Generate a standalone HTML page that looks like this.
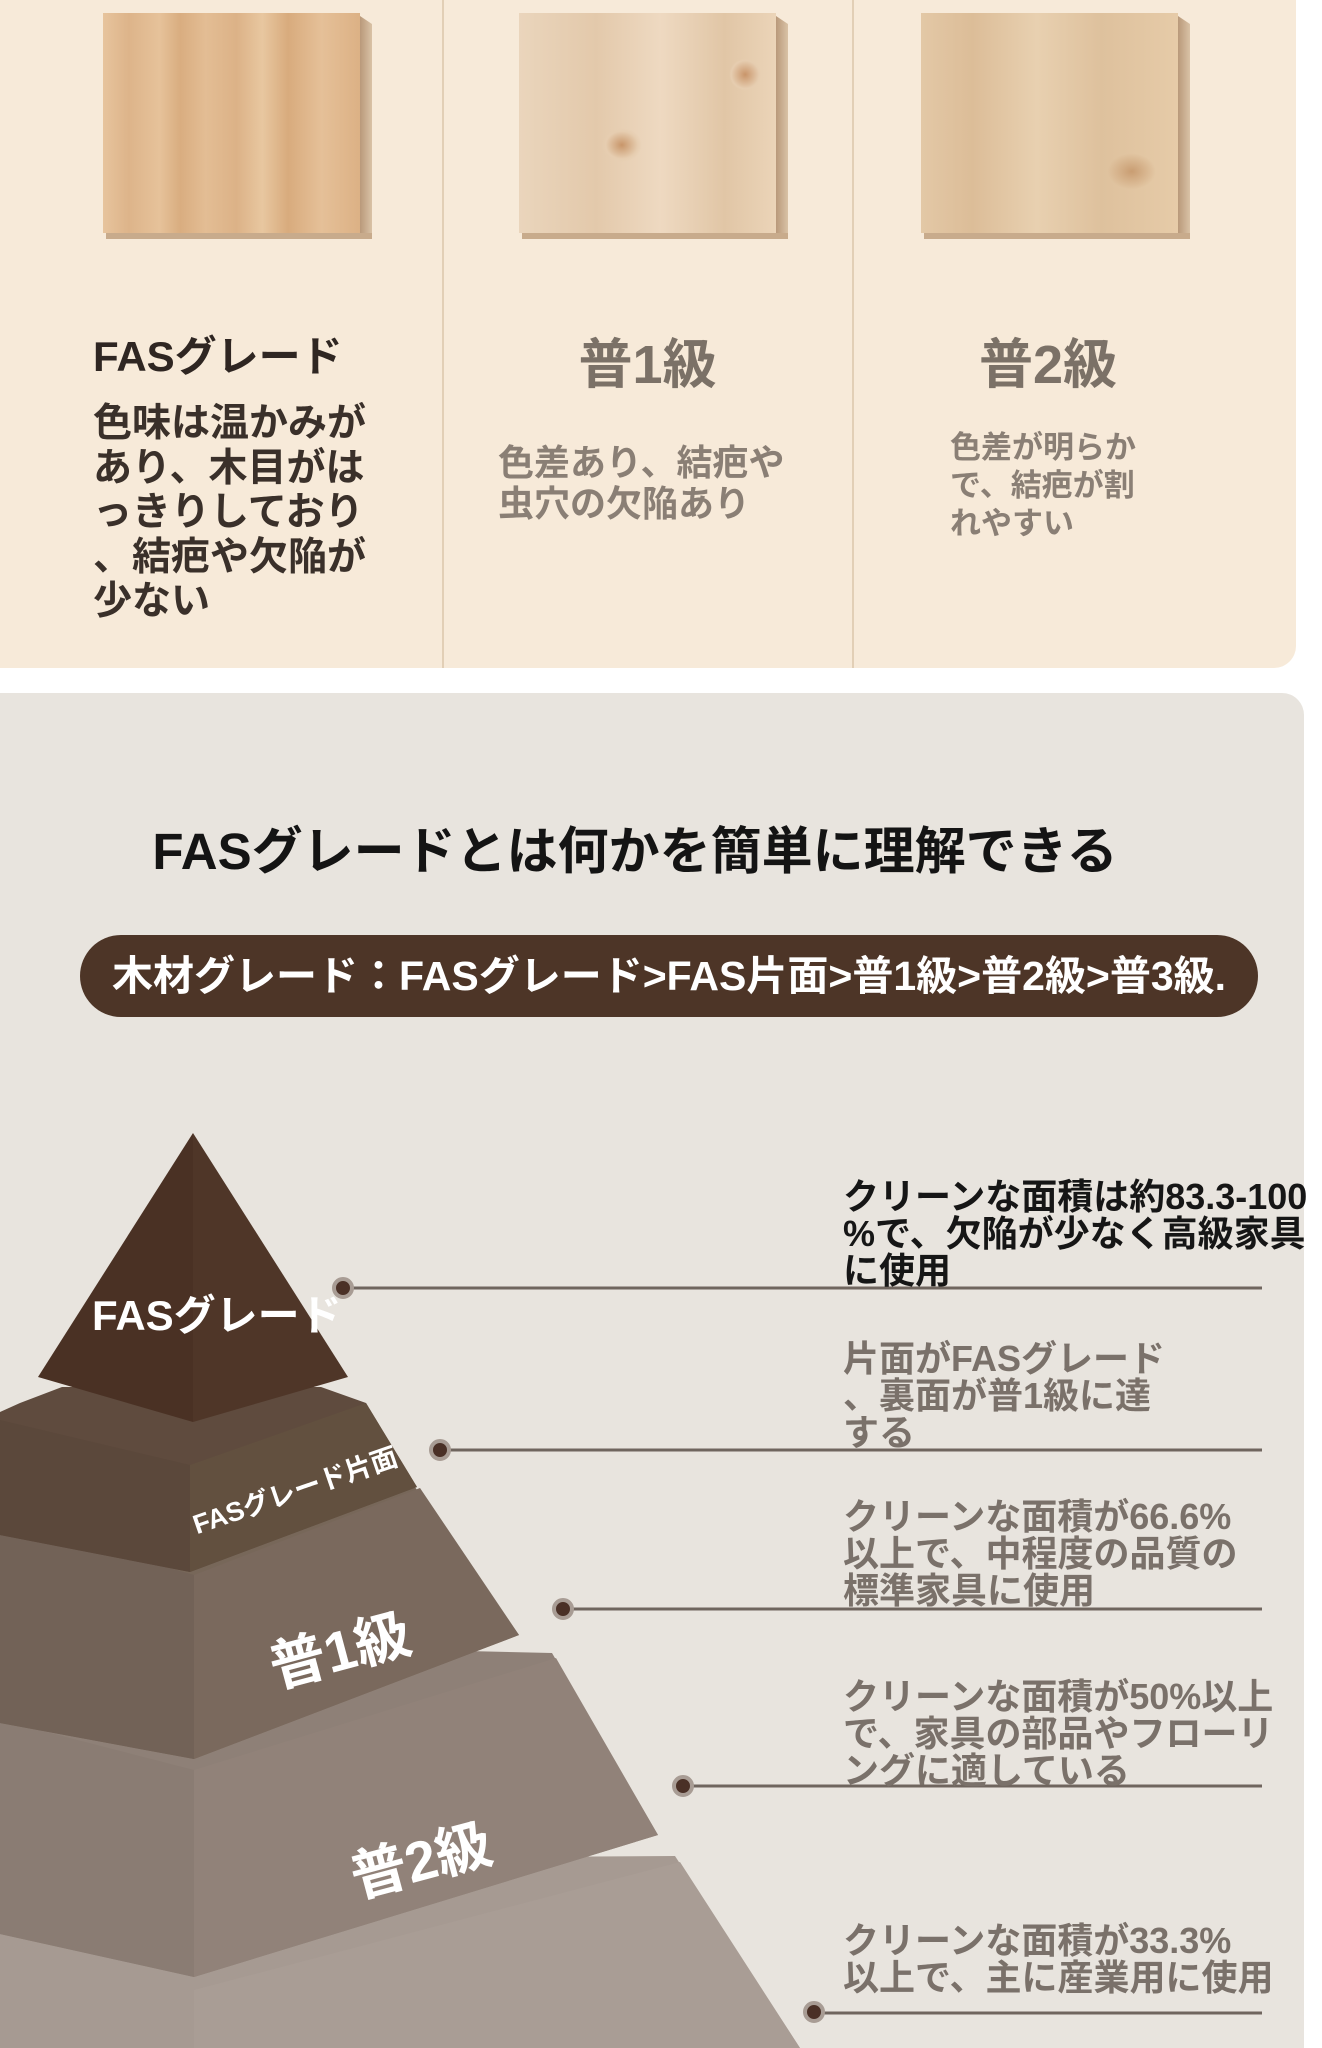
<!DOCTYPE html>
<html><head><meta charset="utf-8">
<style>
*{margin:0;padding:0;box-sizing:border-box}
body{width:1322px;height:2048px;background:#fff;position:relative;overflow:hidden;font-family:"Liberation Sans","Noto Sans CJK JP",sans-serif;font-weight:bold}
.a{position:absolute;white-space:nowrap}
.card1{position:absolute;left:0;top:0;width:1296px;height:668px;background:#f7ead9;border-radius:0 0 22px 0}
.card2{position:absolute;left:0;top:693px;width:1304px;height:1355px;background:#e8e4de;border-radius:0 22px 0 0}
.div{position:absolute;top:0;width:2px;height:668px;background:#e2cfb6}
.wood{position:absolute;width:257px;height:220px}
.wood .f{position:absolute;left:0;top:0;width:257px;height:220px}
.wood .s{position:absolute;left:257px;top:3px;width:12px;height:222px;background:linear-gradient(90deg,#b9997a,#d9c2a6);clip-path:polygon(0 0,100% 8px,100% 100%,0 100%)}
.wood .b{position:absolute;left:3px;top:220px;width:266px;height:6px;background:#c8ab8c}
.t{line-height:37px;font-size:36px}
</style></head><body>
<div class="card1"></div>
<div class="div" style="left:442px"></div>
<div class="div" style="left:852px"></div>

<div class="wood" style="left:103px;top:13px"><div class="f" style="background:linear-gradient(90deg,#e7c49d 0%,#ddb48a 10%,#e6c29a 22%,#d9ad80 30%,#e3bd94 40%,#dcb287 52%,#e8c7a0 62%,#d8ab7d 72%,#e5c098 85%,#dcb185 100%)"></div><div class="s"></div><div class="b"></div></div>
<div class="wood" style="left:519px;top:13px"><div class="f" style="background:radial-gradient(circle at 88% 28%,#c9956a 0,#e6cdb0 14px,transparent 16px),radial-gradient(ellipse at 40% 60%,#c8966a 0,#e6cdb0 16px,transparent 20px),linear-gradient(90deg,#ead5bc,#e3c9ab 30%,#eed9c1 55%,#e1c6a6 80%,#ebd4b8)"></div><div class="s"></div><div class="b"></div></div>
<div class="wood" style="left:921px;top:13px"><div class="f" style="background:radial-gradient(ellipse at 82% 72%,#c99d72 0,transparent 24px),linear-gradient(90deg,#e3c8a6,#dcbd98 20%,#e8d0b0 45%,#dec19d 70%,#e6cba8)"></div><div class="s"></div><div class="b"></div></div>

<div class="a" style="left:93px;top:333px;font-size:42px;line-height:48px;color:#2f2622">FASグレード</div>
<div class="a" style="left:93px;top:402px;font-size:39px;line-height:44.6px;color:#3a302a;white-space:normal;width:300px">色味は温かみが<br>あり、木目がは<br>っきりしており<br>、結疤や欠陥が<br>少ない</div>
<div class="a" style="left:443px;width:409px;text-align:center;top:333px;font-size:54px;line-height:64px;color:#7b7167">普1級</div>
<div class="a" style="left:498px;top:442px;font-size:36px;line-height:41px;color:#8a7f75">色差あり、結疤や<br>虫穴の欠陥あり</div>
<div class="a" style="left:853px;width:390px;text-align:center;top:333px;font-size:54px;line-height:64px;color:#7b7167">普2級</div>
<div class="a" style="left:950px;top:429px;font-size:31px;line-height:38px;color:#8a7f75">色差が明らか<br>で、結疤が割<br>れやすい</div>

<div class="card2"></div>
<div class="a" style="left:0;width:1270px;text-align:center;top:821px;font-size:51px;line-height:62px;color:#141414">FASグレードとは何かを簡単に理解できる</div>
<div class="a" style="left:80px;top:935px;width:1178px;height:82px;border-radius:41px;background:#4d3527"></div>
<div class="a" style="left:80px;width:1178px;text-align:center;top:951px;font-size:41px;line-height:50px;color:#fff">木材グレード：FASグレード&gt;FAS片面&gt;普1級&gt;普2級&gt;普3級.</div>

<svg class="a" style="left:0;top:0" width="1322" height="2048">
<polygon points="0,1860 675,1856 800,2048 0,2048" fill="#a69a92"/>
<polygon points="194,1990 680,1862 800,2048 194,2048" fill="#a99d95"/>
<polygon points="0,1640 552,1653 658,1835 194,1977 0,1934" fill="#8e8077"/>
<polygon points="194,1770 556,1658 658,1835 194,1977" fill="#918279"/>
<polygon points="0,1720 194,1770 194,1977 0,1934" fill="#8a7c73"/>
<polygon points="0,1490 410,1480 519,1635 194,1759 0,1723" fill="#776759"/>
<polygon points="194,1575 420,1488 519,1635 194,1759" fill="#7a695d"/>
<polygon points="0,1520 194,1575 194,1759 0,1723" fill="#726257"/>
<polygon points="20,1403 62,1387 321,1387 366,1403 417,1487 190,1572 0,1535 0,1412" fill="#5f4b3e"/>
<polygon points="190,1465 366,1403 417,1487 190,1572" fill="#62503f"/>
<polygon points="0,1420 190,1465 190,1572 0,1535" fill="#5b483b"/>
<polygon points="193,1133 38,1377 193,1422" fill="#4a3124"/>
<polygon points="193,1133 348,1377 193,1422" fill="#4f3628"/>
<g stroke="#6f655e" stroke-width="3">
<line x1="341" y1="1288" x2="1262" y2="1288"/>
<line x1="440" y1="1450" x2="1262" y2="1450"/>
<line x1="563" y1="1609" x2="1262" y2="1609"/>
<line x1="683" y1="1786" x2="1262" y2="1786"/>
<line x1="814" y1="2013" x2="1262" y2="2013"/>
</g>
<g fill="#4a3026" stroke="#a89c94" stroke-width="4">
<circle cx="343" cy="1288" r="9"/><circle cx="440" cy="1450" r="9"/><circle cx="563" cy="1609" r="9"/><circle cx="683" cy="1786" r="9"/><circle cx="814" cy="2012" r="9"/>
</g>
<g fill="#fff" font-family="Liberation Sans, Noto Sans CJK JP, sans-serif" font-weight="bold">
<text x="92" y="1330" font-size="42">FASグレード</text>
<text x="295" y="1500" font-size="27" text-anchor="middle" transform="rotate(-19 295 1490)">FASグレード片面</text>
<text x="340" y="1670" font-size="56" text-anchor="middle" transform="rotate(-15 340 1650)">普1級</text>
<text x="421" y="1880" font-size="56" text-anchor="middle" transform="rotate(-15 421 1860)">普2級</text>
</g>
</svg>

<div class="a t" style="left:843px;top:1178px;color:#161616">クリーンな面積は約83.3-100<br>%で、欠陥が少なく高級家具<br>に使用</div>
<div class="a t" style="left:843px;top:1340px;color:#7a716a">片面がFASグレード<br>、裏面が普1級に達<br>する</div>
<div class="a t" style="left:843px;top:1498px;color:#7a716a">クリーンな面積が66.6%<br>以上で、中程度の品質の<br>標準家具に使用</div>
<div class="a t" style="left:843px;top:1678px;color:#7a716a">クリーンな面積が50%以上<br>で、家具の部品やフローリ<br>ングに適している</div>
<div class="a t" style="left:843px;top:1922px;color:#7a716a">クリーンな面積が33.3%<br>以上で、主に産業用に使用</div>
</body></html>
